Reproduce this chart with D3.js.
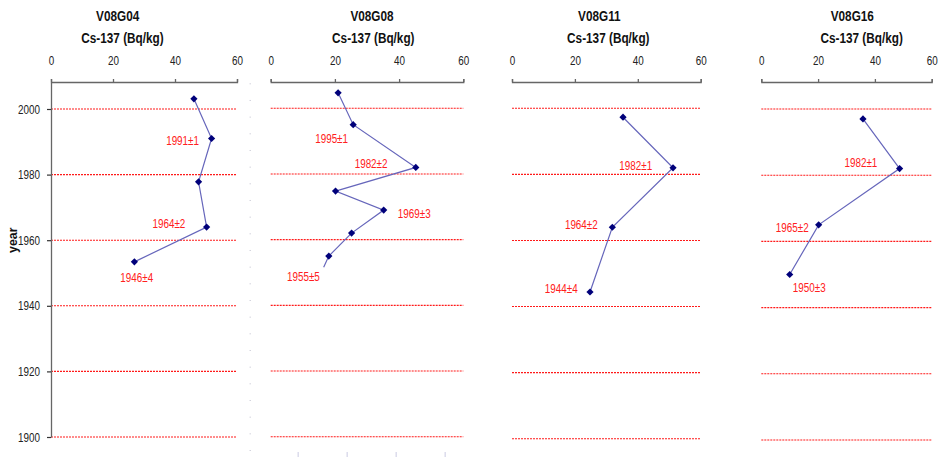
<!DOCTYPE html>
<html>
<head>
<meta charset="utf-8">
<script src="https://cdn.jsdelivr.net/npm/d3@7"></script>
<style>
  html, body { margin: 0; padding: 0; background: #fff; }
  svg { display: block; }
  text { font-family: "Liberation Sans", Arial, sans-serif; }
</style>
</head>
<body>
<svg id="chart" width="941" height="461"></svg>
<script>
// ---- data -------------------------------------------------------------
const cores = ["V08G04", "V08G08", "V08G11", "V08G16"];
const unitLabel = "Cs-137 (Bq/kg)";
const xTicks = [0, 20, 40, 60];
const yearTicks = [1900, 1920, 1940, 1960, 1980, 2000];

// Cs-137 activity (Bq/kg) against assigned year for each core
const csV08G04 = [46.1, 51.8, 47.6, 50.2, 26.9];
const yrV08G04 = [2003.1, 1991, 1977.8, 1964, 1953.4];
const csV08G08 = [21.0, 25.7, 45.2, 20.2, 35.2, 25.2, 18.1, 16.5];
const yrV08G08 = [2004.7, 1995, 1982, 1974.8, 1969, 1962.0, 1955, 1951.6];
const csV08G11 = [35.3, 51.2, 31.9, 24.8];
const yrV08G11 = [1997.3, 1982, 1964, 1944.4];
const csV08G16 = [35.8, 48.7, 20.2, 10.0];
const yrV08G16 = [1997.0, 1982, 1965, 1950];

// dating annotations: [text, index of the sample they belong to]
const notesV08G04 = [["1991±1", 1], ["1964±2", 3], ["1946±4", 4]];
const notesV08G08 = [["1995±1", 1], ["1982±2", 2], ["1969±3", 4], ["1955±5", 6]];
const notesV08G11 = [["1982±1", 1], ["1964±2", 2], ["1944±4", 3]];
const notesV08G16 = [["1982±1", 1], ["1965±2", 2], ["1950±3", 3]];

// ---- layout -----------------------------------------------------------
const panelLayout = [
  { x0: 51,    x1: 237,   y1900: 437,   y2000: 109,   titleX: 117.7, unitX: 122.5, yAxis: true,
    noteOffsets: [[-29, 1.4], [-37.7, -3.3], [2.4, 15.6]], markerCount: 5 },
  { x0: 270.7, x1: 463.3, y1900: 436.7, y2000: 108.3, titleX: 372,   unitX: 373.3, yAxis: false,
    noteOffsets: [[-21.6, 14], [-44.7, -4.4], [30.6, 3], [-25.4, 20]], markerCount: 7 },
  { x0: 512,   x1: 700.7, y1900: 438.7, y2000: 108.3, titleX: 599.3, unitX: 608.3, yAxis: false,
    noteOffsets: [[-37.3, -2.3], [-31, -2.6], [-28.7, -4]], markerCount: 4 },
  { x0: 761.3, x1: 931.7, y1900: 440,   y2000: 109,   titleX: 852.3, unitX: 861.7, yAxis: false,
    noteOffsets: [[-38.7, -6.3], [-26.4, 2], [19.6, 13.3]], markerCount: 4 }
];
const axisTop = 82;
const squeeze = 0.76;   // condensed lettering

const seriesCs = [csV08G04, csV08G08, csV08G11, csV08G16];
const seriesYr = [yrV08G04, yrV08G08, yrV08G11, yrV08G16];
const seriesNotes = [notesV08G04, notesV08G08, notesV08G11, notesV08G16];

const svg = d3.select("#chart");
const axisColor = "#666";
const lineColor = "#6666bb";
const markerColor = "#00007a";
const noteColor = "#ff2020";

const diamond = d3.symbol().type(d3.symbolSquare).size(26);

// place a text at (x, y) with horizontally condensed glyphs
function narrowText(parent, x, y) {
  return parent.append("text")
    .attr("transform", `translate(${x},${y}) scale(${squeeze},1)`);
}
// condense axis tick labels in place
function narrowTicks(sel) {
  sel.each(function () {
    const t = d3.select(this);
    const x = +t.attr("x") || 0;
    t.attr("x", x / squeeze).attr("transform", `scale(${squeeze},1)`);
  });
}

cores.forEach((core, i) => {
  const L = panelLayout[i];
  const x = d3.scaleLinear().domain([0, 60]).range([L.x0, L.x1]);
  const y = d3.scaleLinear().domain([1900, 2000]).range([L.y1900, L.y2000]);
  const g = svg.append("g");

  // titles
  narrowText(g, L.titleX, 20.7)
    .attr("text-anchor", "middle").attr("font-size", 15.5).attr("font-weight", "bold")
    .attr("fill", "#111").text(core);
  narrowText(g, L.unitX, 42.7)
    .attr("text-anchor", "middle").attr("font-size", 15.5).attr("font-weight", "bold")
    .attr("fill", "#111").text(unitLabel);

  // year reference lines
  g.append("g").selectAll("line").data(yearTicks).join("line")
    .attr("x1", L.x0).attr("x2", L.x1)
    .attr("y1", d => y(d)).attr("y2", d => y(d))
    .attr("stroke", "#ff1a1a").attr("stroke-width", 1.1)
    .attr("stroke-dasharray", "2,1");

  // top value axis
  const xa = g.append("g").attr("transform", `translate(0,${axisTop})`)
    .call(d3.axisTop(x).tickValues(xTicks).tickSize(3).tickSizeOuter(3).tickPadding(14));
  xa.select(".domain").attr("stroke", axisColor).attr("stroke-width", 1.3);
  xa.selectAll(".tick line").attr("stroke", axisColor).attr("stroke-width", 1.3);
  xa.selectAll(".tick text").attr("font-size", 13).attr("fill", "#222")
    .style("font-family", '"Liberation Sans", Arial, sans-serif').call(narrowTicks);

  // year axis on the first panel only
  if (L.yAxis) {
    const yTopYear = y.invert(axisTop);
    const yAxisScale = y.copy().domain([1900, yTopYear]).range([L.y1900, axisTop]);
    const ya = g.append("g").attr("transform", `translate(${L.x0},0)`)
      .call(d3.axisLeft(yAxisScale).tickValues(yearTicks).tickFormat(d3.format("d"))
        .tickSize(4).tickSizeOuter(0).tickPadding(7));
    ya.select(".domain").attr("stroke", axisColor).attr("stroke-width", 1.3);
    ya.selectAll(".tick line").attr("stroke", "#333").attr("stroke-width", 1.2);
    ya.selectAll(".tick text").attr("font-size", 13).attr("fill", "#222")
      .style("font-family", '"Liberation Sans", Arial, sans-serif').call(narrowTicks);

    g.append("text")
      .attr("transform", `translate(17,${y(1960)}) rotate(-90) scale(0.95,1)`)
      .attr("text-anchor", "middle").attr("font-size", 13).attr("font-weight", "bold")
      .attr("fill", "#111").text("year");
  }

  // profile line
  const cs = seriesCs[i], yr = seriesYr[i];
  const pts = cs.map((v, k) => ({ v, yr: yr[k] }));
  g.append("path").datum(pts)
    .attr("fill", "none").attr("stroke", lineColor).attr("stroke-width", 1.2)
    .attr("d", d3.line().x(d => x(d.v)).y(d => y(d.yr)));

  // sample markers
  g.append("g").selectAll("path").data(pts.slice(0, L.markerCount)).join("path")
    .attr("d", diamond)
    .attr("transform", d => `translate(${x(d.v)},${y(d.yr)}) rotate(45)`)
    .attr("fill", markerColor);

  // dating annotations
  g.append("g").selectAll("text").data(seriesNotes[i]).join("text")
    .attr("transform", (d, k) =>
      `translate(${x(pts[d[1]].v) + L.noteOffsets[k][0]},${y(pts[d[1]].yr) + L.noteOffsets[k][1]}) scale(${squeeze},1)`)
    .attr("dy", "0.36em")
    .attr("text-anchor", "middle").attr("font-size", 13).attr("fill", noteColor)
    .text(d => d[0]);
});

// faint leftover tick marks of the second panel's hidden axes
const ghostY = d3.scaleLinear().domain([0, 22]).range([450, 83.3]);
const gy = svg.append("g").attr("transform", "translate(251,0)")
  .call(d3.axisLeft(ghostY).ticks(22).tickSize(1.5).tickFormat(""));
gy.select(".domain").remove();
gy.selectAll(".tick line").attr("stroke", "#d4d4de");
const ghostX = d3.scaleLinear().domain([0, 4]).range([248.7, 444.7]);
const gx = svg.append("g").attr("transform", "translate(0,452)")
  .call(d3.axisBottom(ghostX).tickValues([1, 2, 3, 4]).tickSize(5).tickFormat(""));
gx.select(".domain").remove();
gx.selectAll(".tick line").attr("stroke", "#dcdcec").attr("stroke-width", 1.5);
</script>
</body>
</html>
